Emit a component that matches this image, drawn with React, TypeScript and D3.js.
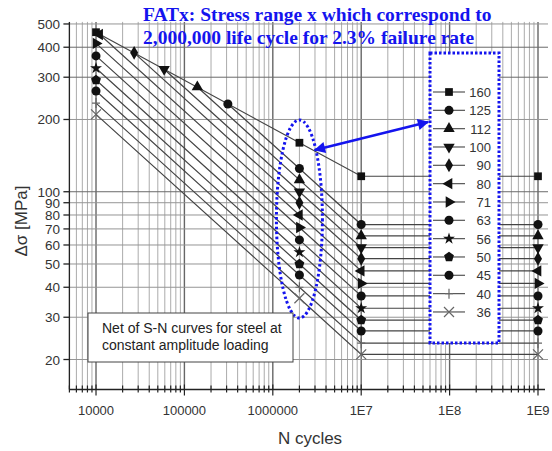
import React, { useEffect, useRef } from 'react';
import * as d3 from 'd3';

const WIDTH = 552;
const HEIGHT = 451;

// FAT detail categories = stress range at 2,000,000 cycles
const fatClasses = [160, 125, 112, 100, 90, 80, 71, 63, 56, 50, 45, 40, 36];
const markerKinds = [
    'square', 'circle', 'triangleUp', 'triangleDown', 'diamond', 'triangleLeft',
    'triangleRight', 'circle', 'star', 'pentagon', 'circle', 'plus', 'cross',
];
// upper end of each curve
const startCycles = [1e4, 3.1e5, 1.4e5, 5.9e4, 2.7e4, 1.1e4, 1e4, 1e4, 1e4, 1e4, 1e4, 1e4, 1e4];
const startStress = [462, 232, 273, 324, 379, 452, 415, 368, 327, 292, 263, 234, 210];
// stress at the knee (1E7 cycles), constant out to 1E9
const kneeStress = [116, 73, 65.5, 58.5, 52.6, 46.8, 41.5, 36.8, 32.7, 29.2, 26.3, 23.4, 21];
const fatCycles = 2e6;
const kneeCycles = 1e7;
const endCycles = 1e9;

const xTicks = [1e4, 1e5, 1e6, 1e7, 1e8, 1e9];
const xTickLabels = ['10000', '100000', '1000000', '1E7', '1E8', '1E9'];
const yTicks = [500, 400, 300, 200, 100, 90, 80, 70, 60, 50, 40, 30, 20];

const BLUE = '#1414ee';
const FONT = 'Arial, "Liberation Sans", sans-serif';

const pentagon = {
    draw(ctx: any, size: number) {
        const r = Math.sqrt(size / 2.378);
        for (let i = 0; i < 5; i++) {
            const a = -Math.PI / 2 + (i * 2 * Math.PI) / 5;
            const px = r * Math.cos(a);
            const py = r * Math.sin(a);
            if (i === 0) ctx.moveTo(px, py);
            else ctx.lineTo(px, py);
        }
        ctx.closePath();
    },
};

function drawMarker(g: any, kind: string, x: number, y: number) {
    if (kind === 'plus') {
        g.append('path')
            .attr('d', `M${x},${y - 5}V${y + 5}M${x - 4},${y}H${x + 4}`)
            .attr('stroke', '#666')
            .attr('stroke-width', 1.2)
            .attr('fill', 'none');
        return;
    }
    if (kind === 'cross') {
        g.append('path')
            .attr('d', `M${x - 5},${y - 5}L${x + 5},${y + 5}M${x - 5},${y + 5}L${x + 5},${y - 5}`)
            .attr('stroke', '#666')
            .attr('stroke-width', 1.2)
            .attr('fill', 'none');
        return;
    }
    let type: any = d3.symbolCircle;
    let size = 64;
    let rot = 0;
    if (kind === 'square') { type = d3.symbolSquare; size = 60; }
    if (kind === 'triangleUp') { type = d3.symbolTriangle; size = 56; }
    if (kind === 'triangleDown') { type = d3.symbolTriangle; size = 56; rot = 180; }
    if (kind === 'triangleLeft') { type = d3.symbolTriangle; size = 56; rot = -90; }
    if (kind === 'triangleRight') { type = d3.symbolTriangle; size = 56; rot = 90; }
    if (kind === 'diamond') { type = d3.symbolDiamond; size = 56; }
    if (kind === 'star') { type = d3.symbolStar; size = 44; }
    if (kind === 'pentagon') { type = pentagon; size = 64; }
    g.append('path')
        .attr('d', d3.symbol().type(type).size(size)())
        .attr('transform', `translate(${x},${y}) rotate(${rot})`)
        .attr('fill', '#111');
}

const App = () => {
    const chartRef = useRef<SVGSVGElement | null>(null);

    useEffect(() => {
        const svg = d3.select(chartRef.current);
        svg.selectAll('*').remove();

        const x = d3.scaleLog().domain([5000, 1.2e9]).range([69.4, 545]);
        const y = d3.scaleLog().domain([15, 510]).range([389.5, 21.9]);
        const [x0, x1] = x.range();
        const [yb, yt] = y.range();

        // Grid
        const grid = svg.append('g');
        const minorX: number[] = [];
        for (let p = 3; p <= 9; p++) {
            for (let k = 1; k <= 9; k++) {
                const v = k * Math.pow(10, p);
                if (v >= 5000 && v <= 1.2e9) minorX.push(v);
            }
        }
        minorX.forEach(v => {
            const major = xTicks.includes(v);
            grid.append('line')
                .attr('x1', x(v)).attr('x2', x(v))
                .attr('y1', yt).attr('y2', yb)
                .attr('stroke', major ? '#666' : '#ababab')
                .attr('stroke-width', major ? 1.4 : 1);
        });
        yTicks.forEach(v => {
            grid.append('line')
                .attr('x1', x0).attr('x2', x1 + 3)
                .attr('y1', y(v)).attr('y2', y(v))
                .attr('stroke', v === 300 || v === 400 || v === 100 ? '#6a6a6a' : '#959595')
                .attr('stroke-width', 1);
        });

        // S-N curves
        const line = d3.line<[number, number]>()
            .x(d => x(d[0]))
            .y(d => y(d[1]));
        const curves = svg.append('g');
        fatClasses.forEach((fat, i) => {
            const pts: [number, number][] = [
                [startCycles[i], startStress[i]],
                [fatCycles, fat],
                [kneeCycles, kneeStress[i]],
                [endCycles, kneeStress[i]],
            ];
            curves.append('path')
                .datum(pts)
                .attr('fill', 'none')
                .attr('stroke', '#444')
                .attr('stroke-width', 1.2)
                .attr('d', line);
        });

        // Axes
        const axes = svg.append('g');
        axes.append('line')
            .attr('x1', x0).attr('x2', x0).attr('y1', yt).attr('y2', yb)
            .attr('stroke', '#222').attr('stroke-width', 1.3);
        axes.append('line')
            .attr('x1', x0).attr('x2', x1).attr('y1', yb).attr('y2', yb)
            .attr('stroke', '#222').attr('stroke-width', 1.3);
        minorX.forEach(v => {
            const major = xTicks.includes(v);
            axes.append('line')
                .attr('x1', x(v)).attr('x2', x(v))
                .attr('y1', major ? yb - 5 : yb - 4).attr('y2', major ? yb + 6 : yb + 3)
                .attr('stroke', '#222').attr('stroke-width', 1.2);
        });
        xTicks.forEach((v, i) => {
            axes.append('text')
                .attr('x', x(v)).attr('y', 415)
                .attr('text-anchor', 'middle')
                .attr('font-family', FONT).attr('font-size', 13)
                .attr('fill', '#333')
                .text(xTickLabels[i]);
        });
        yTicks.forEach(v => {
            axes.append('line')
                .attr('x1', x0 - 6).attr('x2', x0)
                .attr('y1', y(v)).attr('y2', y(v))
                .attr('stroke', '#222').attr('stroke-width', 1.3);
            axes.append('text')
                .attr('x', 60).attr('y', y(v) + 5)
                .attr('text-anchor', 'end')
                .attr('font-family', FONT).attr('font-size', 13.5)
                .attr('fill', '#333')
                .text(v);
        });
        axes.append('text')
            .attr('transform', 'translate(27,221) rotate(-90)')
            .attr('text-anchor', 'middle')
            .attr('font-family', FONT).attr('font-size', 17)
            .attr('fill', '#333')
            .text('Δσ [MPa]');
        axes.append('text')
            .attr('x', 310).attr('y', 444)
            .attr('text-anchor', 'middle')
            .attr('font-family', FONT).attr('font-size', 17)
            .attr('fill', '#333')
            .text('N cycles');

        // Legend box
        const legend = svg.append('g');
        legend.append('rect')
            .attr('x', 430).attr('y', 53).attr('width', 69).attr('height', 290)
            .attr('fill', 'white')
            .attr('stroke', BLUE).attr('stroke-width', 3)
            .attr('stroke-dasharray', '2.5 2');

        // Markers on curves
        const markers = svg.append('g');
        fatClasses.forEach((fat, i) => {
            const pts: [number, number][] = [
                [startCycles[i], startStress[i]],
                [fatCycles, fat],
                [kneeCycles, kneeStress[i]],
                [endCycles, kneeStress[i]],
            ];
            pts.forEach(p => drawMarker(markers, markerKinds[i], x(p[0]), y(p[1])));
        });

        fatClasses.forEach((fat, i) => {
            const ly = 92 + i * 18.33;
            legend.append('line')
                .attr('x1', 433).attr('x2', 465).attr('y1', ly).attr('y2', ly)
                .attr('stroke', '#555').attr('stroke-width', 1.2);
            drawMarker(legend, markerKinds[i], 449, ly);
            legend.append('text')
                .attr('x', 491).attr('y', ly + 5)
                .attr('text-anchor', 'end')
                .attr('font-family', FONT).attr('font-size', 13)
                .attr('fill', '#333')
                .text(fat);
        });

        // Ellipse around the 2,000,000-cycle points
        svg.append('ellipse')
            .attr('cx', x(fatCycles)).attr('cy', 219).attr('rx', 23).attr('ry', 99)
            .attr('fill', 'none')
            .attr('stroke', BLUE).attr('stroke-width', 3)
            .attr('stroke-dasharray', '2.5 2.5');

        // Double-headed arrow
        const defs = svg.append('defs');
        defs.append('marker')
            .attr('id', 'arrowHead')
            .attr('viewBox', '0 0 10 10')
            .attr('refX', 9).attr('refY', 5)
            .attr('markerWidth', 5).attr('markerHeight', 4.5)
            .attr('orient', 'auto-start-reverse')
            .attr('markerUnits', 'strokeWidth')
            .append('path')
            .attr('d', 'M0,0L10,5L0,10Z')
            .attr('fill', BLUE);
        svg.append('line')
            .attr('x1', 315).attr('y1', 150).attr('x2', 428).attr('y2', 122)
            .attr('stroke', BLUE).attr('stroke-width', 2.5)
            .attr('marker-start', 'url(#arrowHead)')
            .attr('marker-end', 'url(#arrowHead)');

        // Note box
        const note = svg.append('g');
        note.append('rect')
            .attr('x', 88).attr('y', 313).attr('width', 205).attr('height', 49)
            .attr('fill', 'white')
            .attr('stroke', '#444').attr('stroke-width', 1);
        ['Net of S-N curves for steel at', 'constant amplitude loading'].forEach((t, i) => {
            note.append('text')
                .attr('x', 102).attr('y', 333 + i * 17)
                .attr('font-family', FONT).attr('font-size', 14)
                .attr('fill', '#222')
                .text(t);
        });

        // Blue title
        ['FATx: Stress range x which correspond to', '2,000,000 life cycle for 2.3% failure rate'].forEach((t, i) => {
            svg.append('text')
                .attr('x', 143).attr('y', 21 + i * 22.5)
                .attr('font-family', '"Liberation Serif", "Times New Roman", serif')
                .attr('font-weight', 'bold')
                .attr('font-size', 19.5)
                .attr('fill', BLUE)
                .text(t);
        });
    }, []);

    return (
        <svg
            ref={chartRef}
            width={WIDTH}
            height={HEIGHT}
            style={{ position: 'absolute', left: 0, top: 0, background: 'white' }}
        />
    );
};

export default App;
